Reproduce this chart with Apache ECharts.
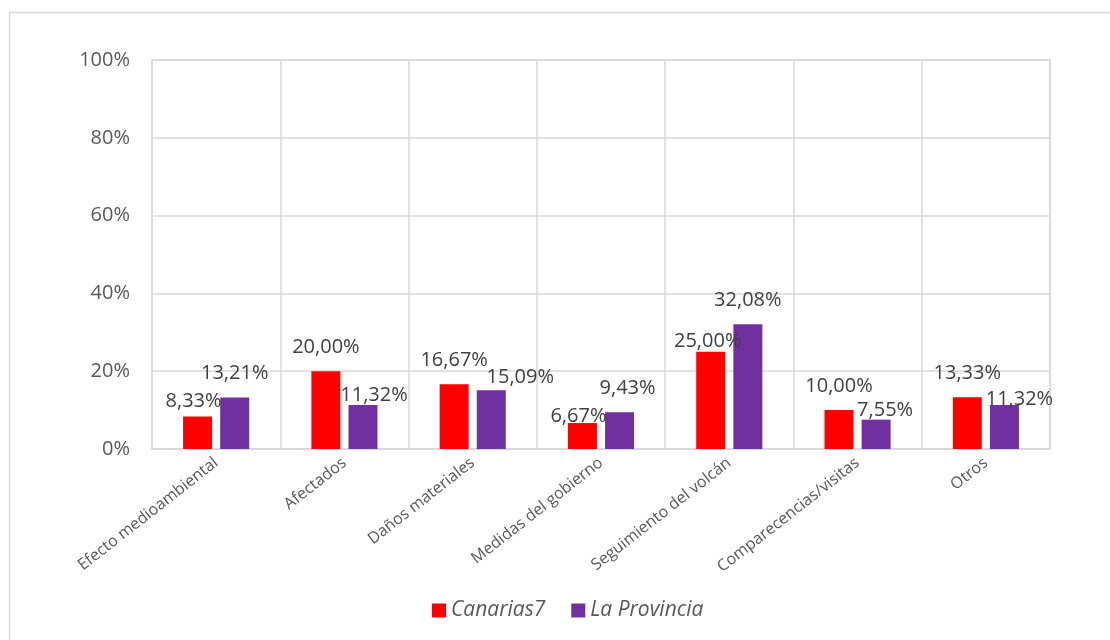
<!DOCTYPE html>
<html>
<head>
<meta charset="utf-8">
<script src="https://cdn.jsdelivr.net/npm/echarts@6/dist/echarts.min.js"></script>
<style>
html,body{margin:0;padding:0;background:#fff;}
#c{width:1110px;height:640px;}
</style>
</head>
<body>
<div id="c"></div>
<script>
const categories = ["Efecto medioambiental","Afectados","Daños materiales","Medidas del gobierno","Seguimiento del volcán","Comparecencias/visitas","Otros"];
const canarias7 = [8.33, 20.00, 16.67, 6.67, 25.00, 10.00, 13.33];
const laProvincia = [13.21, 11.32, 15.09, 9.43, 32.08, 7.55, 11.32];
const yTicks = [0, 20, 40, 60, 80, 100];

// label nudges (relative px) mimicking the original's overlap avoidance
const nudgeCanarias = [[-4, 9], [0, 0], [0, 0], [-4, 17], [-3, 14], [0, 0], [0, 0]];
const nudgeProvincia = [[0, 0], [11, 14], [29, 11], [8, 0], [0, 0], [9, 15], [15, 18]];

const FONT = "Open Sans";
const fmt = v => v.toFixed(2).replace('.', ',') + '%';

const chart = echarts.init(document.getElementById('c'), null, {renderer: 'canvas'});
const labelStyle = {
  show: true, position: 'top', distance: 14,
  color: '#404040', fontFamily: FONT, fontSize: 20,
  formatter: p => fmt(p.value)
};
const withNudge = (vals, nudges) => vals.map((v, i) => ({value: v, label: {offset: nudges[i]}}));

chart.setOption({
  animation: false,
  backgroundColor: '#fff',
  graphic: [{
    type: 'rect', left: 7, top: 10,
    shape: {width: 1200, height: 700},
    style: {fill: 'none', stroke: '#d9d9d9', lineWidth: 1.5},
    silent: true
  }],
  grid: {left: 152, top: 60, width: 898, height: 389, show: true, borderColor: '#d9d9d9', borderWidth: 1.5, containLabel: false},
  legend: {
    bottom: 14, left: 427,
    itemWidth: 14, itemHeight: 14, itemGap: 26,
    icon: 'rect',
    textStyle: {color: '#595959', fontFamily: FONT, fontSize: 21, fontStyle: 'italic'},
    data: ['Canarias7', 'La Provincia']
  },
  xAxis: {
    type: 'category', data: categories,
    axisLine: {show: true, lineStyle: {color: '#d9d9d9', width: 1.5}},
    axisTick: {show: false},
    splitLine: {show: true, interval: 0, lineStyle: {color: '#d9d9d9', width: 1.5}},
    axisLabel: {interval: 0, rotate: 38, margin: 12, color: '#595959', fontFamily: FONT, fontSize: 16}
  },
  yAxis: {
    type: 'value', min: yTicks[0], max: yTicks[yTicks.length - 1], interval: 20,
    axisLine: {show: false}, axisTick: {show: false},
    splitLine: {show: true, lineStyle: {color: '#d9d9d9', width: 1.5}},
    axisLabel: {margin: 22, color: '#595959', fontFamily: FONT, fontSize: 20, formatter: '{value}%'}
  },
  series: [
    {name: 'Canarias7', type: 'bar', data: withNudge(canarias7, nudgeCanarias), barWidth: 29, barGap: '28%',
     itemStyle: {color: '#ff0000'}, label: labelStyle},
    {name: 'La Provincia', type: 'bar', data: withNudge(laProvincia, nudgeProvincia), barWidth: 29,
     itemStyle: {color: '#7030a0'}, label: labelStyle}
  ]
});
</script>
</body>
</html>
